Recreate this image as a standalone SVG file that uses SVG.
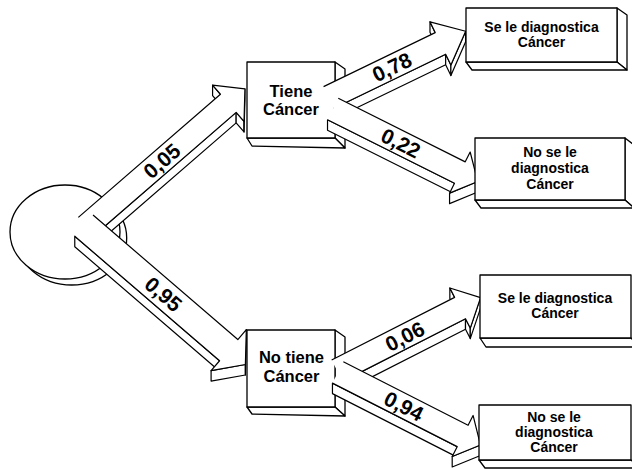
<svg xmlns="http://www.w3.org/2000/svg" width="632" height="469" viewBox="0 0 632 469">
<style>
.f{fill:#fff;stroke:none}
.q{fill:#fff;stroke:#000;stroke-width:1.2;stroke-linejoin:round}
.e{fill:none;stroke:#000;stroke-width:1.2;stroke-linejoin:round}
.bx{fill:#fff;stroke:#000;stroke-width:1.3;stroke-linejoin:round}
.lbl{font-family:"Liberation Sans",Arial,sans-serif;font-weight:bold;font-size:21px;text-anchor:middle;fill:#000}
.tm{font-family:"Liberation Sans",Arial,sans-serif;font-weight:bold;font-size:16.5px;text-anchor:middle;fill:#000}
.te{font-family:"Liberation Sans",Arial,sans-serif;font-weight:bold;font-size:14px;text-anchor:middle;fill:#000}
</style>
<rect width="632" height="469" fill="#fff"/>

<g id="root-node">
  <ellipse class="bx" cx="71.7" cy="238" rx="55" ry="47"/>
  <ellipse class="bx" cx="65" cy="232" rx="55" ry="47"/>
</g>

<g id="node-tiene">
  <polygon class="bx" points="335,62 345,69 345,148 335,138"/>
  <polygon class="bx" points="247,138 335,138 345,148 252,146"/>
  <rect class="bx" x="247" y="62" width="88" height="76"/>
  <text class="tm" x="291" y="96.7">Tiene</text>
  <text class="tm" x="291" y="115">Cáncer</text>
</g>

<g id="node-no-tiene">
  <polygon class="bx" points="335,330 345,337 345,416 335,407"/>
  <polygon class="bx" points="247,407 335,407 345,416 252,414"/>
  <rect class="bx" x="247" y="330" width="88" height="77"/>
  <text class="tm" x="291.5" y="363.3">No tiene</text>
  <text class="tm" x="291.5" y="381.7">Cáncer</text>
</g>

<g id="connectors">
  <g id="arrow-005" transform="translate(86.2,226.4) rotate(-40.9)">
    <path class="q" d="M0,12 L188,12 L181.12,19.94 L-6.88,19.94 Z"/>
    <path class="q" d="M188,24 L188,12 L181.12,19.94 L181.12,31.94 Z"/>
    <path class="q" d="M210,0 L188,24 L181.12,31.94 L203.12,7.94 Z"/>
    <path class="q" d="M188,-12 L188,-24 L181.12,-16.06 L181.12,-4.06 Z"/>
    <polygon class="f" points="0,-12 188,-12 188,-24 210,0 188,24 188,12 0,12"/>
    <polyline class="e" points="0,-12 188,-12 188,-24 210,0 188,24 188,12 0,12"/>
    <text class="lbl" x="100" y="7.5">0,05</text>
  </g>
  <g id="arrow-095" transform="translate(83.9,225.6) rotate(40.7)">
    <path class="q" d="M0,14 L191,14 L197.85,21.96 L6.85,21.96 Z"/>
    <path class="q" d="M213,0 L191,27 L197.85,34.96 L219.85,7.96 Z"/>
    <path class="q" d="M191,-27 L213,0 L219.85,7.96 L197.85,-19.04 Z"/>
    <polygon class="f" points="0,-14 191,-14 191,-27 213,0 191,27 191,14 0,14"/>
    <polyline class="e" points="0,-14 191,-14 191,-27 213,0 191,27 191,14 0,14"/>
    <text class="lbl" x="105" y="7.5">0,95</text>
  </g>
  <g id="arrow-078" transform="translate(328.8,97.4) rotate(-25.8)">
    <path class="q" d="M0,12 L124,12 L119.43,21.45 L-4.57,21.45 Z"/>
    <path class="q" d="M124,24 L124,12 L119.43,21.45 L119.43,33.45 Z"/>
    <path class="q" d="M152,0 L124,24 L119.43,33.45 L147.43,9.45 Z"/>
    <path class="q" d="M124,-12 L124,-24 L119.43,-14.55 L119.43,-2.55 Z"/>
    <polygon class="f" points="0,-12 124,-12 124,-24 152,0 124,24 124,12 0,12"/>
    <polyline class="e" points="0,-12 124,-12 124,-24 152,0 124,24 124,12 0,12"/>
    <text class="lbl" x="70" y="7.5">0,78</text>
  </g>
  <g id="arrow-022" transform="translate(332.9,109) rotate(26.6)">
    <path class="q" d="M0,12 L142,12 L146.69,21.39 L4.69,21.39 Z"/>
    <path class="q" d="M162,0 L142,23 L146.69,32.39 L166.69,9.39 Z"/>
    <polygon class="f" points="0,-12 142,-12 142,-23 162,0 142,23 142,12 0,12"/>
    <polyline class="e" points="0,-12 142,-12 142,-23 162,0 142,23 142,12 0,12"/>
    <text class="lbl" x="76" y="7.5">0,22</text>
  </g>
  <g id="arrow-006" transform="translate(337.1,370.7) rotate(-27)">
    <path class="q" d="M0,12 L138,12 L133.23,21.36 L-4.77,21.36 Z"/>
    <path class="q" d="M138,22.5 L138,12 L133.23,21.36 L133.23,31.86 Z"/>
    <path class="q" d="M161,0 L138,22.5 L133.23,31.86 L156.23,9.36 Z"/>
    <path class="q" d="M138,-12 L138,-22.5 L133.23,-13.14 L133.23,-2.64 Z"/>
    <polygon class="f" points="0,-12 138,-12 138,-22.5 161,0 138,22.5 138,12 0,12"/>
    <polyline class="e" points="0,-12 138,-12 138,-22.5 161,0 138,22.5 138,12 0,12"/>
    <text class="lbl" x="76" y="7.5">0,06</text>
  </g>
  <g id="arrow-094" transform="translate(337.9,372.4) rotate(27)">
    <path class="q" d="M0,12 L140,12 L144.77,21.36 L4.77,21.36 Z"/>
    <path class="q" d="M160,0 L140,23 L144.77,32.36 L164.77,9.36 Z"/>
    <polygon class="f" points="0,-12 140,-12 140,-23 160,0 140,23 140,12 0,12"/>
    <polyline class="e" points="0,-12 140,-12 140,-23 160,0 140,23 140,12 0,12"/>
    <text class="lbl" x="74" y="7.5">0,94</text>
  </g>
</g>

<g id="node-end-1">
  <polygon class="bx" points="617,8 627,15 627,70 617,62"/>
  <polygon class="bx" points="466,62 617,62 627,70 472,70"/>
  <rect class="bx" x="466" y="8" width="151" height="54"/>
  <text class="te" x="541.5" y="31.7">Se le diagnostica</text>
  <text class="te" x="541.5" y="46.7">Cáncer</text>
</g>

<g id="node-end-2">
  <polygon class="bx" points="625,138 634,145 634,208 625,200"/>
  <polygon class="bx" points="475,200 625,200 634,208 481,208"/>
  <rect class="bx" x="475" y="138" width="150" height="62"/>
  <text class="te" x="550" y="157.3">No se le</text>
  <text class="te" x="550" y="173.3">diagnostica</text>
  <text class="te" x="550" y="189">Cáncer</text>
</g>

<g id="node-end-3">
  <polygon class="bx" points="480,338 631,338 640,347 486,347"/>
  <rect class="bx" x="480" y="275" width="151" height="63"/>
  <text class="te" x="555" y="303.3">Se le diagnostica</text>
  <text class="te" x="555" y="318.3">Cáncer</text>
</g>

<g id="node-end-4">
  <polygon class="bx" points="479,460 631,460 640,468 485,468"/>
  <rect class="bx" x="479" y="405" width="152" height="55"/>
  <text class="te" x="554" y="421.7">No se le</text>
  <text class="te" x="554" y="436.7">diagnostica</text>
  <text class="te" x="554" y="451.7">Cáncer</text>
</g>
</svg>
